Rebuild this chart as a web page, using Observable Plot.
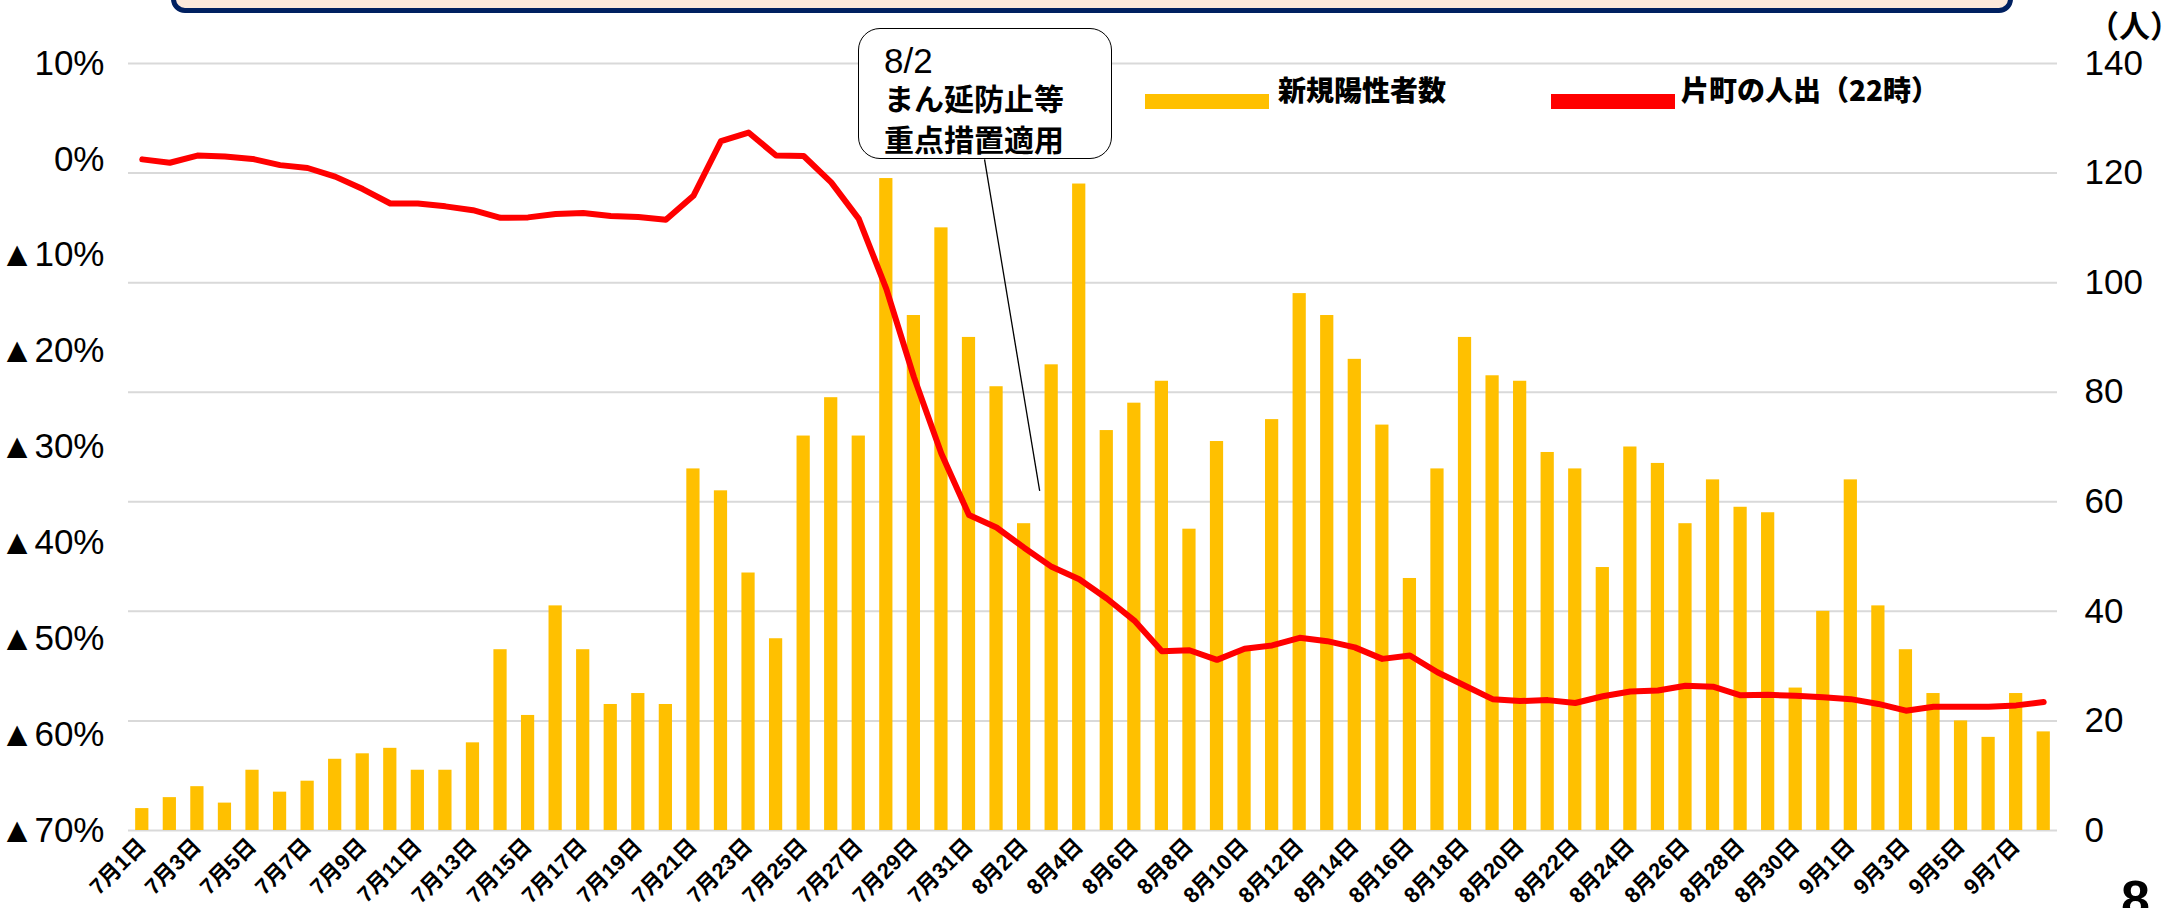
<!DOCTYPE html>
<html>
<head>
<meta charset="utf-8">
<script src="https://cdn.jsdelivr.net/npm/d3@7"></script>
<script src="https://cdn.jsdelivr.net/npm/@observablehq/plot@0.6"></script>
<style>
  html, body { margin: 0; padding: 0; background: #fff; }
  #wrap { position: relative; width: 2183px; height: 908px; overflow: hidden; }
  #wrap svg { position: absolute; left: 0; top: 0; }
  .topbox { position: absolute; left: 171px; top: -60px; width: 1842px; height: 73px; box-sizing: border-box;
            border: 5px solid #002060; border-radius: 14px; background: #FCE9DB; }
  .annot { position: absolute; left: 858px; top: 28px; width: 254px; height: 131px; box-sizing: border-box;
           border: 1.5px solid #000; border-radius: 22px; background: #fff; }
  .annot div { position: absolute; left: 25px; white-space: nowrap; color: #000; line-height: 1; }
  .a1 { top: 14px; font: 400 35px "Liberation Sans", sans-serif; }
  .a2, .a3 { font: 700 30px "Noto Sans CJK JP", sans-serif; }
  .a2 { top: 53px; } .a3 { top: 94px; }
  .lg { position: absolute; font: 900 28px "Noto Sans CJK JP", sans-serif; color: #000; line-height: 1; white-space: nowrap; }
  .sw { position: absolute; height: 15px; }
  .unit { position: absolute; left: 2088px; top: 8px; font: 700 31px "Noto Sans CJK JP", sans-serif; line-height: 1; white-space: nowrap; }
  .pageno { position: absolute; left: 2121px; top: 873px; font: 700 52px "Liberation Sans", sans-serif; line-height: 1; }
</style>
</head>
<body>
<div id="wrap">
  <div class="topbox"></div>
</div>
<script>
// Categories (dates)
const dates = [
  "7月1日","7月2日","7月3日","7月4日","7月5日","7月6日","7月7日","7月8日","7月9日","7月10日",
  "7月11日","7月12日","7月13日","7月14日","7月15日","7月16日","7月17日","7月18日","7月19日","7月20日",
  "7月21日","7月22日","7月23日","7月24日","7月25日","7月26日","7月27日","7月28日","7月29日","7月30日","7月31日",
  "8月1日","8月2日","8月3日","8月4日","8月5日","8月6日","8月7日","8月8日","8月9日","8月10日",
  "8月11日","8月12日","8月13日","8月14日","8月15日","8月16日","8月17日","8月18日","8月19日","8月20日",
  "8月21日","8月22日","8月23日","8月24日","8月25日","8月26日","8月27日","8月28日","8月29日","8月30日","8月31日",
  "9月1日","9月2日","9月3日","9月4日","9月5日","9月6日","9月7日","9月8日"
];
// 新規陽性者数 (人)
const cases = [
  4,6,8,5,11,7,9,13,14,15,
  11,11,16,33,21,41,33,23,25,23,
  66,62,47,35,72,79,72,119,94,110,90,
  81,56,85,118,73,78,82,55,71,33,
  75,98,94,86,74,46,66,90,83,82,
  69,66,48,70,67,56,64,59,58,26,40,
  64,41,33,25,20,17,25,18
];
// 片町の人出（22時） 増減率 (%)
const footfall = [
  0.0,-0.35,0.4,0.3,0.05,-0.6,-0.9,-1.8,-3.1,-4.6,
  -4.6,-4.9,-5.3,-6.1,-6.05,-5.7,-5.6,-5.9,-6.0,-6.3,
  -3.8,1.9,2.8,0.4,0.35,-2.4,-6.2,-13.5,-22.7,-30.7,-37.1,
  -38.4,-40.5,-42.5,-43.8,-45.8,-48.1,-51.3,-51.2,-52.2,-51.05,
  -50.7,-49.9,-50.25,-50.9,-52.1,-51.75,-53.5,-54.9,-56.3,-56.5,
  -56.4,-56.7,-56.0,-55.5,-55.4,-54.9,-55.0,-55.9,-55.85,-55.95,-56.1,
  -56.3,-56.8,-57.5,-57.1,-57.1,-57.1,-56.95,-56.6
];
// Axis ticks and labels
const rightTicks = [0, 20, 40, 60, 80, 100, 120, 140];
const leftTicks = [10, 0, -10, -20, -30, -40, -50, -60, -70];
const leftLabels = ["10%", "0%", "▲10%", "▲20%", "▲30%", "▲40%", "▲50%", "▲60%", "▲70%"];
const xTickLabels = dates.filter((d, i) => i % 2 === 0);
const leftDomain = [-70, 10];
const rightDomain = [0, 140];
// annotation
const annotation = {from: "8月1日", to: "8月3日", top: 122.5, bottom: 62};
const legendItems = [
  {label: "新規陽性者数", color: "#FFC000", sx: 1145, tx: 1278},
  {label: "片町の人出（22時）", color: "#FF0000", sx: 1551, tx: 1681}
];

// map the left (%) axis onto the right (count) axis, as in the dual-axis original
const pctToCount = p => (p - leftDomain[0]) / (leftDomain[1] - leftDomain[0]) * (rightDomain[1] - rightDomain[0]) + rightDomain[0];
const leftMap = new Map(leftTicks.map((p, i) => [pctToCount(p), leftLabels[i]]));

const data = dates.map((d, i) => ({date: d, cases: cases[i], pct: footfall[i]}));

const chart = Plot.plot({
  width: 2183,
  height: 908,
  marginLeft: 128,
  marginRight: 126,
  marginTop: 63,
  marginBottom: 78,
  style: {fontFamily: "'Liberation Sans', 'Noto Sans CJK JP', sans-serif", color: "#000", background: "transparent", overflow: "visible"},
  x: {type: "band", domain: dates, paddingInner: 0.52, paddingOuter: 0.26, axis: null},
  y: {domain: rightDomain, axis: null},
  marks: [
    Plot.gridY(rightTicks, {stroke: "#d9d9d9", strokeOpacity: 1, strokeWidth: 2}),
    Plot.barY(data, {x: "date", y: "cases", fill: "#FFC000"}),
    Plot.line(data, {x: "date", y: d => pctToCount(d.pct), stroke: "#FF0000", strokeWidth: 6, strokeLinejoin: "round", strokeLinecap: "round"}),
    Plot.link([annotation], {x1: "from", x2: "to", y1: "top", y2: "bottom", dx: -12, stroke: "#000", strokeWidth: 1.3}),
    Plot.axisY(rightTicks, {anchor: "right", tickSize: 0, tickPadding: 27, fontSize: 35, label: null, textAnchor: "start"}),
    Plot.axisY(leftTicks.map(pctToCount), {anchor: "left", tickSize: 0, tickPadding: 24, fontSize: 35, label: null, tickFormat: v => leftMap.get(v)}),
    Plot.axisX(xTickLabels, {anchor: "bottom", tickRotate: -45, tickSize: 0, tickPadding: 12, fontSize: 22, fontWeight: "bold", label: null})
  ]
});

const wrap = document.getElementById("wrap");
wrap.insertBefore(chart, wrap.firstChild);

// legend
for (const it of legendItems) {
  const sw = document.createElement("div");
  sw.className = "sw";
  sw.style.left = it.sx + "px"; sw.style.top = "94px"; sw.style.width = "124px"; sw.style.background = it.color;
  wrap.appendChild(sw);
  const t = document.createElement("div");
  t.className = "lg";
  t.style.left = it.tx + "px"; t.style.top = "75px";
  t.textContent = it.label;
  wrap.appendChild(t);
}
// annotation box
const box = document.createElement("div");
box.className = "annot";
box.innerHTML = '<div class="a1">8/2</div><div class="a2">まん延防止等</div><div class="a3">重点措置適用</div>';
wrap.appendChild(box);
// unit label and page number
const unit = document.createElement("div");
unit.className = "unit"; unit.textContent = "（人）";
wrap.appendChild(unit);
const pg = document.createElement("div");
pg.className = "pageno"; pg.textContent = "8";
wrap.appendChild(pg);
</script>
</body>
</html>
